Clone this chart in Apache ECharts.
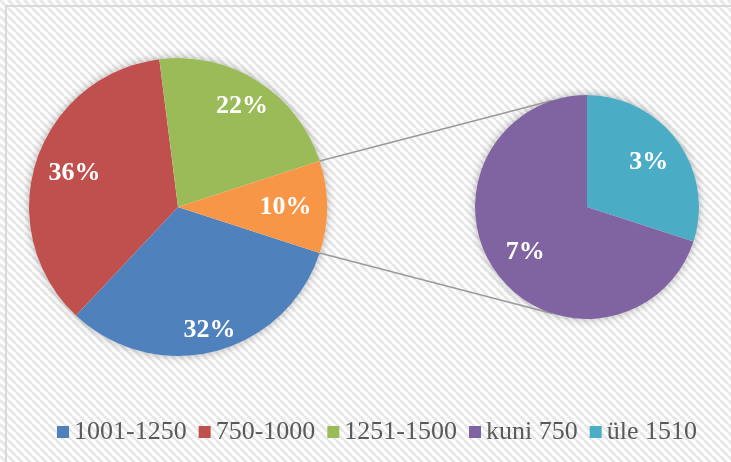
<!DOCTYPE html>
<html>
<head>
<meta charset="utf-8">
<script src="https://cdn.jsdelivr.net/npm/echarts@6/dist/echarts.min.js"></script>
<style>
  html, body { margin: 0; padding: 0; background: #fff; }
  #chart { width: 731px; height: 462px; }
</style>
</head>
<body>
<div id="chart"></div>
<script>
// main pie
const mainNames = ['1001-1250', '750-1000', '1251-1500'];
const mainValues = [32, 36, 22];
const otherName = 'Muu';
// secondary pie (breakdown of the "other" slice)
const subNames = ['üle 1510', 'kuni 750'];
const subValues = [3, 7];
const legendNames = ['1001-1250', '750-1000', '1251-1500', 'kuni 750', 'üle 1510'];

const colors = {
  '1001-1250': '#4F81BD',
  '750-1000': '#C0504D',
  '1251-1500': '#9BBB59',
  'Muu': '#F79646',
  'kuni 750': '#8064A2',
  'üle 1510': '#4BACC6'
};

const mainCenter = [178, 207], mainR = 149;
const subCenter = [587, 207], subR = 112;

const otherValue = subValues.reduce((a, b) => a + b, 0);
const mainAll = mainValues.concat([otherValue]);
const total = mainAll.reduce((a, b) => a + b, 0);
const halfAngle = otherValue / total * 360 / 2;  // degrees
const rad = halfAngle * Math.PI / 180;

const mainData = mainNames.concat([otherName]).map((n, i) => ({ name: n, value: mainAll[i], itemStyle: { color: colors[n] } }));
const subData = subNames.map((n, i) => ({ name: n, value: subValues[i], itemStyle: { color: colors[n] } }));

// mid angles (screen radians, clockwise from 3 o'clock) of each slice
function midAngles(values, startDeg) {
  const sum = values.reduce((a, b) => a + b, 0);
  let a = -startDeg;
  return values.map(v => {
    const span = v / sum * 360;
    const m = a + span / 2;
    a += span;
    return m * Math.PI / 180;
  });
}
const mainMid = midAngles(mainAll, -halfAngle);
const subMid = midAngles(subValues, 90);

// pull the label in from the rim, more when it is wide and sits to the side
function insetLayout(center, r, mids, margin) {
  return function (p) {
    const t = mids[p.dataIndex];
    const c = Math.cos(t), s = Math.sin(t);
    const d = r - margin - p.labelRect.width / 2 * Math.abs(c);
    return { x: center[0] + d * c, y: center[1] + d * s };
  };
}

// background pattern
function stripes() {
  const c = document.createElement('canvas');
  c.width = 8; c.height = 8;
  const ctx = c.getContext('2d');
  ctx.fillStyle = '#ffffff';
  ctx.fillRect(0, 0, 8, 8);
  ctx.strokeStyle = '#e7e7e7';
  ctx.lineWidth = 3;
  [-8, 0, 8].forEach(x => {
    ctx.beginPath();
    ctx.moveTo(x, 0);
    ctx.lineTo(x + 8, 8);
    ctx.stroke();
  });
  return c;
}

const labelStyle = {
  show: true, position: 'inside', formatter: p => p.value + '%',
  color: '#fff', fontFamily: 'Liberation Serif', fontWeight: 'bold', fontSize: 26,
  align: 'center', verticalAlign: 'middle'
};

const chart = echarts.init(document.getElementById('chart'));
chart.setOption({
  backgroundColor: { image: stripes(), repeat: 'repeat' },
  animation: false,
  legend: {
    data: legendNames,
    left: 52,
    top: 414,
    icon: 'rect',
    itemWidth: 12,
    itemHeight: 12,
    itemGap: 12,
    textStyle: { color: '#595959', fontFamily: 'Liberation Serif', fontSize: 26 }
  },
  graphic: [
    { type: 'rect', shape: { x: 6, y: 6, width: 740, height: 470 }, style: { fill: 'none', stroke: '#d9d9d9', lineWidth: 2 }, z: 100 },
    { type: 'circle', shape: { cx: mainCenter[0], cy: mainCenter[1], r: mainR }, style: { fill: '#fff', shadowBlur: 8, shadowColor: 'rgba(0,0,0,0.3)' }, z: -1 },
    { type: 'circle', shape: { cx: subCenter[0], cy: subCenter[1], r: subR }, style: { fill: '#fff', shadowBlur: 8, shadowColor: 'rgba(0,0,0,0.3)' }, z: -1 },
    { type: 'line', shape: {
        x1: mainCenter[0] + mainR * Math.cos(rad), y1: mainCenter[1] - mainR * Math.sin(rad),
        x2: subCenter[0] - subR * Math.sin(rad), y2: subCenter[1] - subR * Math.cos(rad)
      }, style: { stroke: '#9a9a9a', lineWidth: 1.5 }, z: -1 },
    { type: 'line', shape: {
        x1: mainCenter[0] + mainR * Math.cos(rad), y1: mainCenter[1] + mainR * Math.sin(rad),
        x2: subCenter[0] - subR * Math.sin(rad), y2: subCenter[1] + subR * Math.cos(rad)
      }, style: { stroke: '#9a9a9a', lineWidth: 1.5 }, z: -1 }
  ],
  series: [
    {
      type: 'pie', center: mainCenter, radius: mainR, startAngle: -halfAngle, clockwise: true,
      data: mainData, label: labelStyle, labelLine: { show: false }, silent: true,
      labelLayout: insetLayout(mainCenter, mainR, mainMid, 15.5)
    },
    {
      type: 'pie', center: subCenter, radius: subR, startAngle: 90, clockwise: true,
      data: subData, label: labelStyle, labelLine: { show: false }, silent: true,
      labelLayout: insetLayout(subCenter, subR, subMid, 20)
    }
  ]
});
</script>
</body>
</html>
